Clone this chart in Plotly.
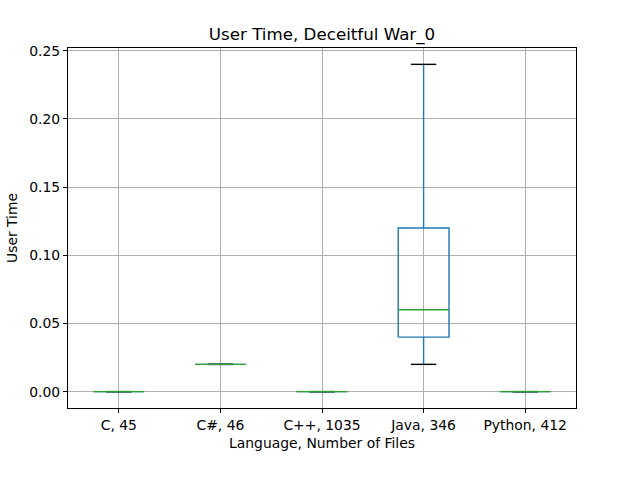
import plotly.graph_objects as go

# Data
categories = ["C, 45", "C#, 46", "C++, 1035", "Java, 346", "Python, 412"]
whislo = [0.0, 0.02, 0.0, 0.02, 0.0]
q1 = [0.0, 0.02, 0.0, 0.04, 0.0]
median = [0.0, 0.02, 0.0, 0.06, 0.0]
q3 = [0.0, 0.02, 0.0, 0.12, 0.0]
whishi = [0.0, 0.02, 0.0, 0.24, 0.0]
y_ticks = [0.0, 0.05, 0.10, 0.15, 0.20, 0.25]

BLUE = "#1f77b4"
GREEN = "#2ca02c"
box_hw = 0.25
cap_hw = 0.125
lw = 1.4

wx, wy, cx, cy, bx, by, mx, my = [], [], [], [], [], [], [], []
for i in range(len(categories)):
    x = i + 1
    # whiskers
    wx += [x, x, None, x, x, None]
    wy += [q1[i], whislo[i], None, q3[i], whishi[i], None]
    # caps
    cx += [x - cap_hw, x + cap_hw, None, x - cap_hw, x + cap_hw, None]
    cy += [whislo[i], whislo[i], None, whishi[i], whishi[i], None]
    # box
    bx += [x - box_hw, x + box_hw, x + box_hw, x - box_hw, x - box_hw, None]
    by += [q1[i], q1[i], q3[i], q3[i], q1[i], None]
    # median
    mx += [x - box_hw, x + box_hw, None]
    my += [median[i], median[i], None]

fig = go.Figure()
fig.add_trace(go.Scatter(x=wx, y=wy, mode="lines", line=dict(color=BLUE, width=lw), hoverinfo="skip"))
fig.add_trace(go.Scatter(x=cx, y=cy, mode="lines", line=dict(color="black", width=lw), hoverinfo="skip"))
fig.add_trace(go.Scatter(x=bx, y=by, mode="lines", line=dict(color=BLUE, width=lw), hoverinfo="skip"))
fig.add_trace(go.Scatter(x=mx, y=my, mode="lines", line=dict(color=GREEN, width=lw), hoverinfo="skip"))

ymin, ymax = 0.0, 0.24
pad = (ymax - ymin) * 0.05

fig.update_layout(
    width=640, height=480,
    margin=dict(l=64, r=64, t=48, b=72),
    paper_bgcolor="white", plot_bgcolor="white",
    showlegend=False,
    font=dict(family="DejaVu Sans", size=13.9, color="black"),
    title=dict(text="User Time, Deceitful War_0", x=0.5, xanchor="center",
               xref="paper", y=1 - 34 / 480, yref="container", yanchor="middle",
               font=dict(size=16.7, color="black")),
    xaxis=dict(
        range=[0.5, 5.5], tickvals=[1, 2, 3, 4, 5], ticktext=categories,
        showgrid=True, gridcolor="#b0b0b0", gridwidth=1,
        showline=True, linecolor="black", linewidth=1, mirror=True,
        ticks="outside", ticklen=4, tickcolor="black", zeroline=False,
        title=dict(text="Language, Number of Files", standoff=6, font=dict(size=13.9)),
    ),
    yaxis=dict(
        range=[ymin - pad, ymax + pad], tickvals=y_ticks, tickformat=".2f",
        showgrid=True, gridcolor="#b0b0b0", gridwidth=1,
        showline=True, linecolor="black", linewidth=1, mirror=True,
        ticks="outside", ticklen=4, tickcolor="black", zeroline=False,
        title=dict(text="User Time", standoff=8, font=dict(size=13.9)),
    ),
)

fig.write_html("out.html")
